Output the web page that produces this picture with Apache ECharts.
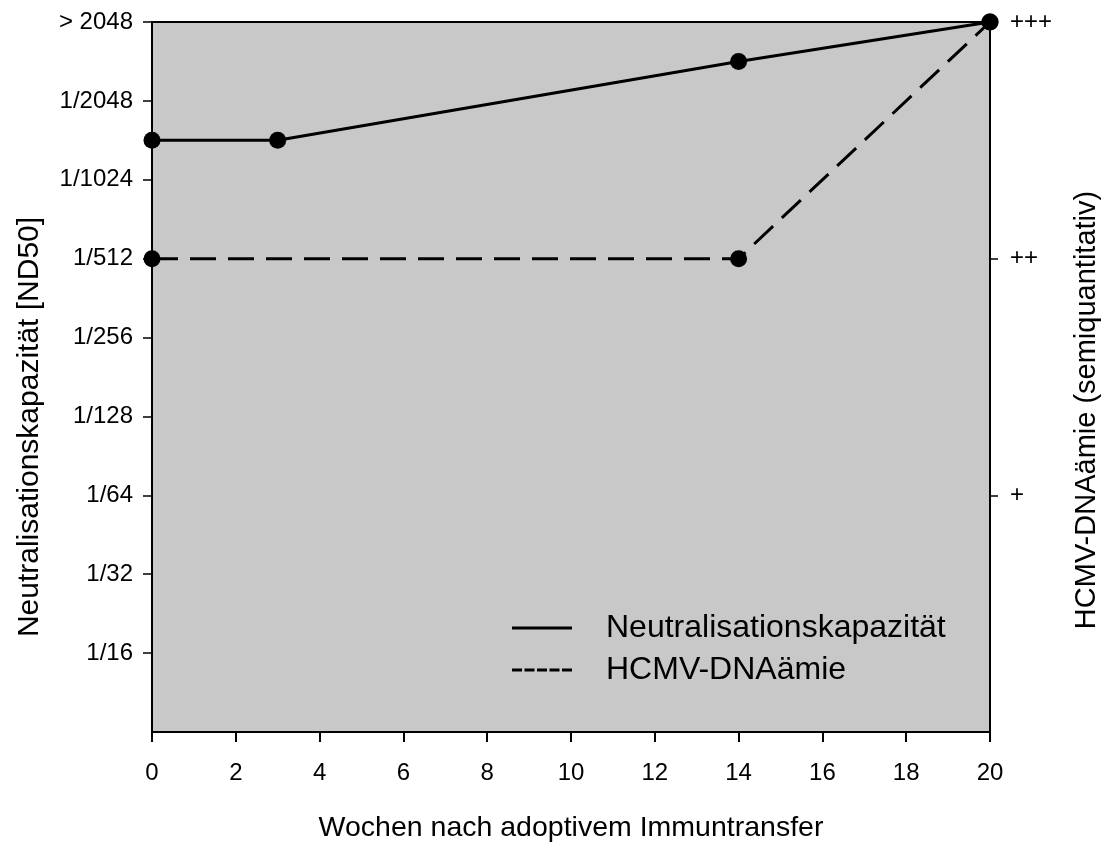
<!DOCTYPE html>
<html>
<head>
<meta charset="utf-8">
<script src="https://cdn.jsdelivr.net/npm/echarts@6/dist/echarts.min.js"></script>
<style>
  html, body { margin: 0; padding: 0; background: #fff; }
  #chart { width: 1111px; height: 849px; }
</style>
</head>
<body>
<div id="chart"></div>
<script>
// Weeks after adoptive immune transfer
const weeksNeutral = [0, 3, 14, 20];
// Neutralisation capacity on a log2 titre scale (1 = 1/16 ... 9 = >2048)
const neutralValues = [7.5, 7.5, 8.5, 9];
const weeksDna = [0, 14, 20];
// Semiquantitative HCMV DNAemia (1 = +, 2 = ++, 3 = +++)
const dnaValues = [2, 2, 3];

const leftTickLabels = ['', '1/16', '1/32', '1/64', '1/128', '1/256', '1/512', '1/1024', '1/2048', '> 2048'];
const rightTickLabels = ['', '+', '++', '+++'];

const FONT = 'Liberation Sans, Arial, sans-serif';

const chart = echarts.init(document.getElementById('chart'), null, { renderer: 'canvas' });

const pairs = (xs, ys) => xs.map((x, i) => [x, ys[i]]);

chart.setOption({
  animation: false,
  backgroundColor: '#ffffff',
  grid: {
    left: 152, right: 121, top: 22, bottom: 117,
    show: true,
    backgroundColor: '#c8c8c8',
    borderColor: '#000',
    borderWidth: 2
  },
  xAxis: {
    type: 'value',
    min: 0, max: 20, interval: 2,
    axisLine: { show: true, onZero: false, lineStyle: { color: '#000', width: 2 } },
    axisTick: { show: true, inside: false, length: 10, lineStyle: { color: '#000', width: 2 } },
    axisLabel: { fontFamily: FONT, fontSize: 24, color: '#000', margin: 29 },
    splitLine: { show: false }
  },
  yAxis: [
    {
      type: 'value',
      min: 0, max: 9, interval: 1,
      position: 'left',
      axisLine: { show: true, onZero: false, lineStyle: { color: '#000', width: 2 } },
      axisTick: { show: true, length: 9, lineStyle: { color: '#000', width: 1.5 },
                  customValues: [1, 2, 3, 4, 5, 6, 7, 8, 9] },
      axisLabel: {
        fontFamily: FONT, fontSize: 24, color: '#000', margin: 19,
        customValues: [1, 2, 3, 4, 5, 6, 7, 8, 9],
        formatter: v => leftTickLabels[Math.round(v)]
      },
      splitLine: { show: false }
    },
    {
      type: 'value',
      min: 0, max: 3, interval: 1,
      position: 'right',
      axisLine: { show: true, onZero: false, lineStyle: { color: '#000', width: 2 } },
      axisTick: { show: true, length: 8, lineStyle: { color: '#000', width: 1.5 },
                  customValues: [1, 2, 3] },
      axisLabel: {
        fontFamily: FONT, fontSize: 24, color: '#000', margin: 20,
        customValues: [1, 2, 3],
        formatter: v => rightTickLabels[Math.round(v)]
      },
      splitLine: { show: false }
    }
  ],
  legend: {
    left: 507, top: 607,
    orient: 'vertical',
    itemWidth: 60, itemHeight: 3,
    itemGap: 10,
    textStyle: { fontFamily: FONT, fontSize: 32, color: '#000', padding: [0, 0, 0, 29] },
    data: [
      { name: 'Neutralisationskapazität', icon: 'path://M0,0H60V3H0Z' },
      { name: 'HCMV-DNAämie', icon: 'path://M0,0H10V3H0Z M12.5,0H22.5V3H12.5Z M25,0H35V3H25Z M37.5,0H47.5V3H37.5Z M50,0H60V3H50Z' }
    ]
  },
  graphic: [
    {
      // left axis title
      type: 'text',
      rotation: Math.PI / 2,
      x: 30, y: 427,
      style: {
        text: 'Neutralisationskapazität [ND50]',
        font: '30px ' + FONT, fill: '#000',
        align: 'center', verticalAlign: 'middle'
      }
    },
    {
      // right axis title
      type: 'text',
      rotation: Math.PI / 2,
      x: 1087, y: 410,
      style: {
        text: 'HCMV-DNAämie (semiquantitativ)',
        font: '29px ' + FONT, fill: '#000',
        align: 'center', verticalAlign: 'middle'
      }
    },
    {
      // x axis title
      type: 'text',
      x: 571, y: 828,
      style: {
        text: 'Wochen nach adoptivem Immuntransfer',
        font: '28.5px ' + FONT, fill: '#000',
        align: 'center', verticalAlign: 'middle'
      }
    }
  ],
  series: [
    {
      name: 'HCMV-DNAämie',
      type: 'line',
      yAxisIndex: 1,
      data: pairs(weeksDna, dnaValues),
      symbol: 'circle', symbolSize: 17,
      itemStyle: { color: '#000' },
      lineStyle: { color: '#000', width: 3, type: [26, 12] },
      z: 3
    },
    {
      name: 'Neutralisationskapazität',
      type: 'line',
      yAxisIndex: 0,
      data: pairs(weeksNeutral, neutralValues),
      symbol: 'circle', symbolSize: 17,
      itemStyle: { color: '#000' },
      lineStyle: { color: '#000', width: 3 },
      z: 4
    }
  ]
});
</script>
</body>
</html>
